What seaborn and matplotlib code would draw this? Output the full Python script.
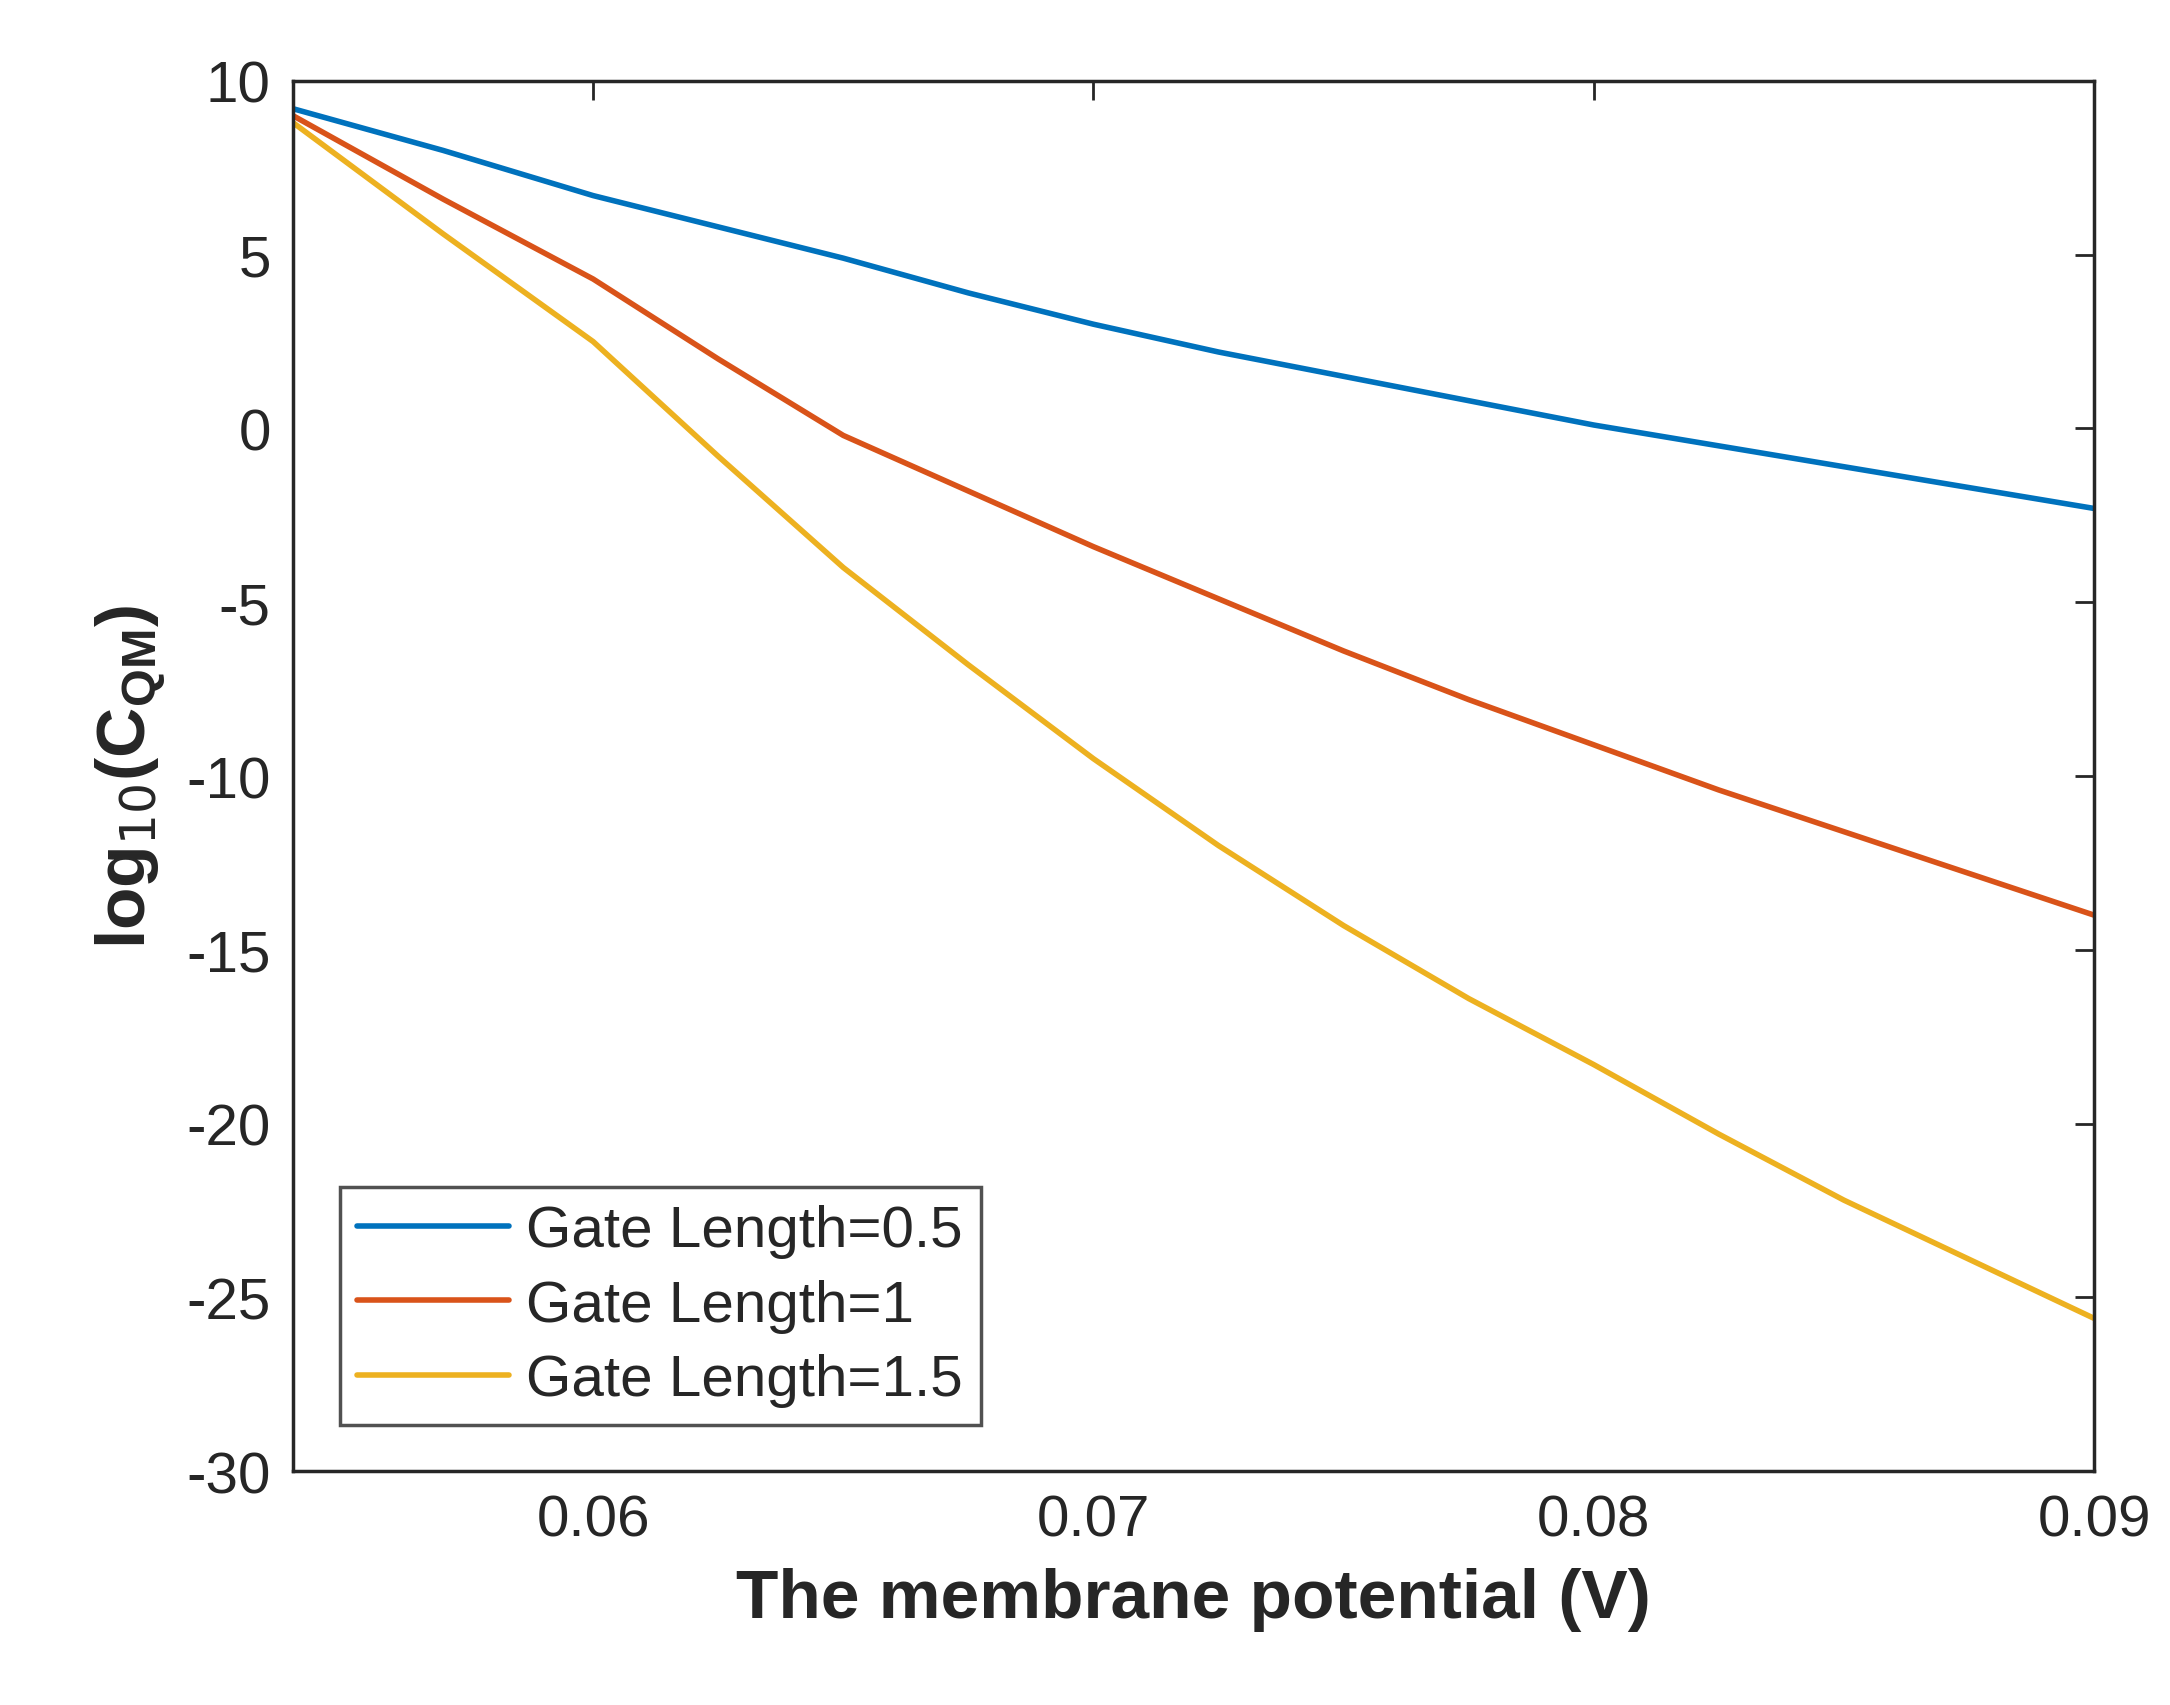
import pandas as pd
import seaborn as sns
import matplotlib.pyplot as plt

# Values
potential = [0.054, 0.057, 0.060, 0.0625, 0.065, 0.0675, 0.070, 0.0725,
             0.075, 0.0775, 0.080, 0.0825, 0.085, 0.0875, 0.090]
gl_05 = [9.2, 8.0, 6.7, 5.8, 4.9, 3.9, 3.0, 2.2, 1.5, 0.8, 0.1, -0.5, -1.1, -1.7, -2.3]
gl_10 = [9.0, 6.6, 4.3, 2.0, -0.2, -1.8, -3.4, -4.9, -6.4, -7.8, -9.1, -10.4, -11.6, -12.8, -14.0]
gl_15 = [8.8, 5.6, 2.5, -0.8, -4.0, -6.8, -9.5, -12.0, -14.3, -16.4, -18.3, -20.3, -22.2, -23.9, -25.6]
labels = ["Gate Length=0.5", "Gate Length=1", "Gate Length=1.5"]
colors = ["#0072BD", "#D95319", "#EDB120"]

df = pd.concat([
    pd.DataFrame({"V": potential, "C": vals, "series": lab})
    for vals, lab in zip([gl_05, gl_10, gl_15], labels)
])

sns.set_style("white")
plt.rcParams["font.family"] = "Liberation Sans"
plt.rcParams["axes.unicode_minus"] = False

fig = plt.figure(figsize=(21.7, 17.06), dpi=100)
ax = fig.add_axes([0.135, 0.137, 0.83, 0.815])
sns.lineplot(data=df, x="V", y="C", hue="series", palette=colors,
             linewidth=4, ax=ax)

ax.set_xlim(0.054, 0.09)
ax.set_ylim(-30, 10)
ax.set_xticks([0.06, 0.07, 0.08, 0.09])
ax.set_xticklabels(["0.06", "0.07", "0.08", "0.09"])
ax.set_yticks(range(-30, 11, 5))
ax.tick_params(direction="in", length=14, width=2, labelsize=42,
               top=True, right=True, colors="#262626", pad=16)
for s in ax.spines.values():
    s.set_linewidth(2.5)
    s.set_color("#262626")

ax.set_xlabel("The membrane potential (V)", fontsize=50, fontweight="bold", labelpad=14)
ax.set_ylabel(r"log$_{10}$(C$_{\mathregular{QM}}$)", fontsize=50, fontweight="bold", labelpad=14)

leg = ax.legend(loc="lower left", fontsize=42, frameon=True, fancybox=False,
                edgecolor="#262626", handlelength=2.6, handletextpad=0.3,
                borderpad=0.3, labelspacing=0.35, borderaxespad=0.8)
leg.get_frame().set_linewidth(2.5)
for line in leg.get_lines():
    line.set_linewidth(4)

fig.savefig("out.png")
